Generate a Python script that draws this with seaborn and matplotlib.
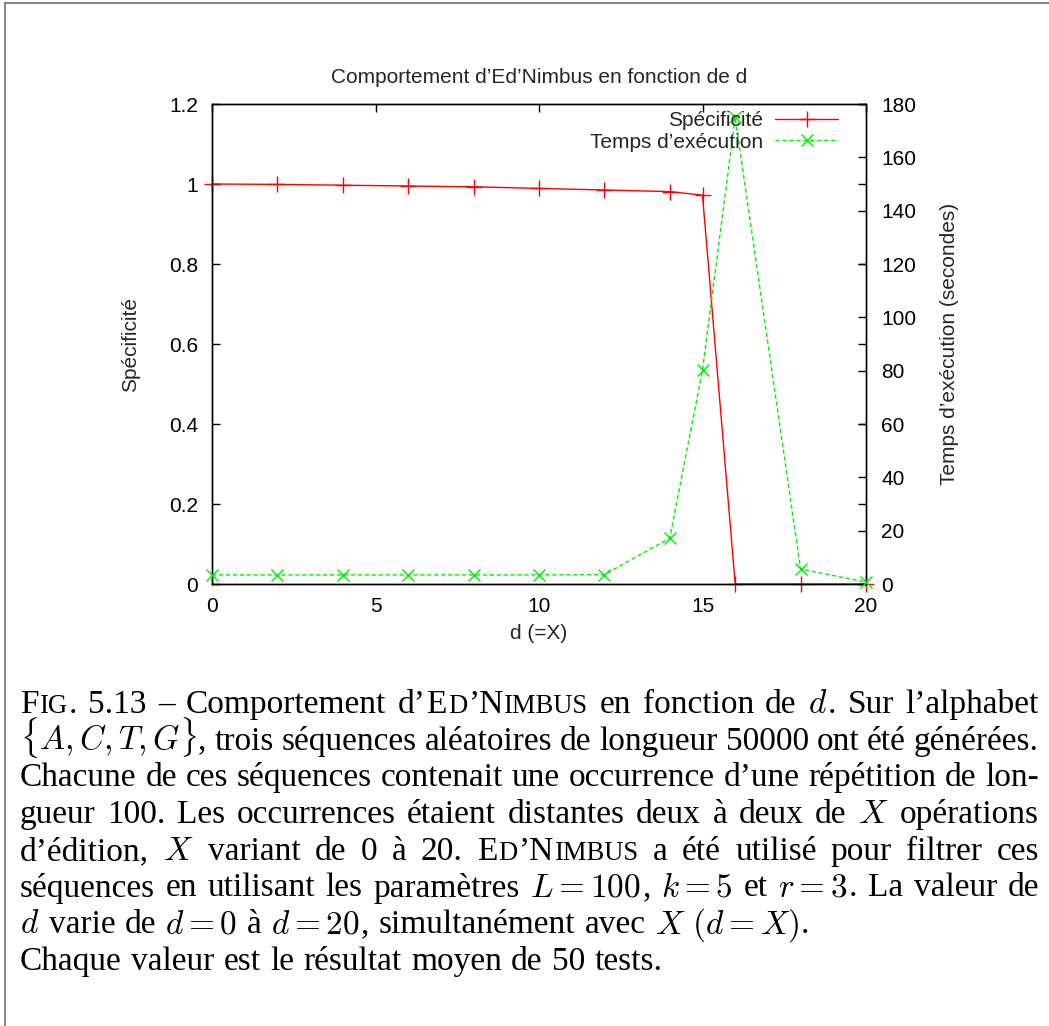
# Ed'Nimbus behaviour as a function of d (gnuplot-style figure with LaTeX caption)

import pandas as pd
import seaborn as sns
import matplotlib
matplotlib.use('Agg')
import matplotlib.pyplot as plt
from matplotlib.lines import Line2D

# values
d_values = [0, 2, 4, 6, 8, 10, 12, 14, 15, 16, 18, 20]
specificite = [1.0, 0.999, 0.997, 0.995, 0.993, 0.989, 0.985, 0.981, 0.972, 0.0, 0.0, 0.0]
temps_exec = [3.4, 3.4, 3.4, 3.4, 3.4, 3.4, 3.5, 17.2, 80.2, 175.0, 5.6, 0.7]

x_ticks = [0, 5, 10, 15, 20]
left_ticks = [0, 0.2, 0.4, 0.6, 0.8, 1.0, 1.2]
left_ticklabels = ['0', '0.2', '0.4', '0.6', '0.8', '1', '1.2']
right_ticks = [0, 20, 40, 60, 80, 100, 120, 140, 160, 180]

legend_labels = ['Spécificité', 'Temps d’exécution']

# caption: (style, text) pieces, rm = roman, sc = small caps, m = math
caption_lines = [
    [('sc', 'Fig.'), ('rm', ' 5.13 – Comportement d’'), ('sc', 'Ed’Nimbus'),
     ('rm', ' en fonction de '), ('m', 'd'), ('rm', '. Sur l’alphabet')],
    [('m', r'\{A, C, T, G\}'), ('rm', ', trois séquences aléatoires de longueur 50000 ont été générées.')],
    [('rm', 'Chacune de ces séquences contenait une occurrence d’une répétition de lon-')],
    [('rm', 'gueur 100. Les occurrences étaient distantes deux à deux de '), ('m', 'X'), ('rm', ' opérations')],
    [('rm', 'd’édition, '), ('m', 'X'), ('rm', ' variant de 0 à 20. '), ('sc', 'Ed’Nimbus'),
     ('rm', ' a été utilisé pour filtrer ces')],
    [('rm', 'séquences en utilisant les paramètres '), ('m', 'L = 100'), ('rm', ', '), ('m', 'k = 5'),
     ('rm', ' et '), ('m', 'r = 3'), ('rm', '. La valeur de')],
    [('m', 'd'), ('rm', ' varie de '), ('m', 'd = 0'), ('rm', ' à '), ('m', 'd = 20'),
     ('rm', ', simultanément avec '), ('m', r'X\ (d = X)'), ('rm', '.')],
    [('rm', 'Chaque valeur est le résultat moyen de 50 tests.')],
]
justified = [True, True, True, True, True, True, False, False]

df = pd.DataFrame({'d': d_values, 'spec': specificite, 'temps': temps_exec})

sns.set_theme(style='white')
plt.rcParams['font.family'] = ['Liberation Sans', 'DejaVu Sans']
plt.rcParams['mathtext.fontset'] = 'cm'

W, H = 1049, 1026
fig = plt.figure(figsize=(W / 100, H / 100), dpi=100)
fig.patch.set_facecolor('white')

ax = fig.add_axes([212 / W, 1 - 584 / H, 654 / W, 480 / H])
ax2 = ax.twinx()

sns.lineplot(data=df, x='d', y='spec', ax=ax, color='#ff0000', marker='+', markersize=11,
             markeredgewidth=1, markeredgecolor='#ff0000', linewidth=1, legend=False,
             clip_on=False, zorder=3)
sns.lineplot(data=df, x='d', y='temps', ax=ax2, color='#00ee00', marker='x', markersize=9,
             markeredgewidth=1, markeredgecolor='#00ee00', linewidth=1, linestyle=(0, (3, 2)),
             legend=False, clip_on=False, zorder=3)

ax.set_xlim(0, 20)
ax.set_ylim(0, 1.2)
ax2.set_ylim(0, 180)
ax.set_xticks(x_ticks)
ax.set_yticks(left_ticks)
ax.set_yticklabels(left_ticklabels)
ax2.set_yticks(right_ticks)

for a in (ax, ax2):
    for sp in a.spines.values():
        sp.set_color('black')
        sp.set_linewidth(1)

fs = 15
ax.tick_params(axis='x', direction='in', length=6, width=1, top=True, pad=9, labelsize=fs, colors='black')
ax.tick_params(axis='y', direction='in', length=6, width=1, right=True, pad=10, labelsize=fs, colors='black')
ax2.tick_params(axis='y', direction='in', length=6, width=1, pad=11, labelsize=fs, colors='black')

ax.set_xlabel('d (=X)', fontsize=fs, labelpad=6)
ax.set_ylabel('Spécificité', fontsize=fs, labelpad=21)
ax2.set_ylabel('Temps d’exécution (secondes)', fontsize=fs, labelpad=17)
ax.set_title('Comportement d’Ed’Nimbus en fonction de d', fontsize=fs, pad=15)

ax2.legend([ax.lines[0], ax2.lines[0]], legend_labels, loc='upper right',
           bbox_to_anchor=(0.957, 0.985), frameon=False, markerfirst=False,
           handlelength=3.0, handletextpad=0.6, labelspacing=0.12,
           borderpad=0, borderaxespad=0, fontsize=fs)

# page frame (left and top edges only)
fig.add_artist(Line2D([5 / W, 5 / W], [0, 1 - 3 / H], transform=fig.transFigure, color='#707070', lw=1.2))
fig.add_artist(Line2D([5 / W, 1], [1 - 3 / H, 1 - 3 / H], transform=fig.transFigure, color='#707070', lw=1.2))

# caption, laid out word by word and justified like LaTeX
cap_size = 24
cap_left, cap_right = 20, 1040
baseline0 = 713
line_step = 36.7
renderer = fig.canvas.get_renderer()


def runs_of(style, s):
    if style == 'm':
        return [('$' + s + '$', cap_size)]
    if style == 'rm':
        return [(s, cap_size)]
    out = []
    for ch in s:
        size = cap_size * 0.8 if ch.islower() else cap_size
        if out and out[-1][1] == size:
            out[-1] = (out[-1][0] + ch.upper(), size)
        else:
            out.append((ch.upper(), size))
    return out


for li, pieces in enumerate(caption_lines):
    words = [[]]
    for style, s in pieces:
        if style == 'm':
            words[-1].append((style, s))
            continue
        for i, p in enumerate(s.split(' ')):
            if i > 0:
                words.append([])
            if p:
                words[-1].append((style, p))
    words = [w for w in words if w]

    y = 1 - (baseline0 + li * line_step) / H
    word_items = []
    for w in words:
        items = []
        for style, s in w:
            for txt, size in runs_of(style, s):
                t = fig.text(0, y, txt, fontsize=size, va='baseline', ha='left',
                             family=['Liberation Serif', 'DejaVu Serif'], color='black')
                items.append((t, t.get_window_extent(renderer).width + 1))
        word_items.append(items)

    widths = [sum(wd for _, wd in items) for items in word_items]
    if justified[li] and len(widths) > 1:
        gap = (cap_right - cap_left - sum(widths)) / (len(widths) - 1)
    else:
        gap = cap_size * 100 / 72 * 0.25
    x = cap_left
    for items, wsum in zip(word_items, widths):
        xx = x
        for t, wd in items:
            t.set_x(xx / W)
            xx += wd
        x += wsum + gap

fig.savefig('out.png', dpi=100)
